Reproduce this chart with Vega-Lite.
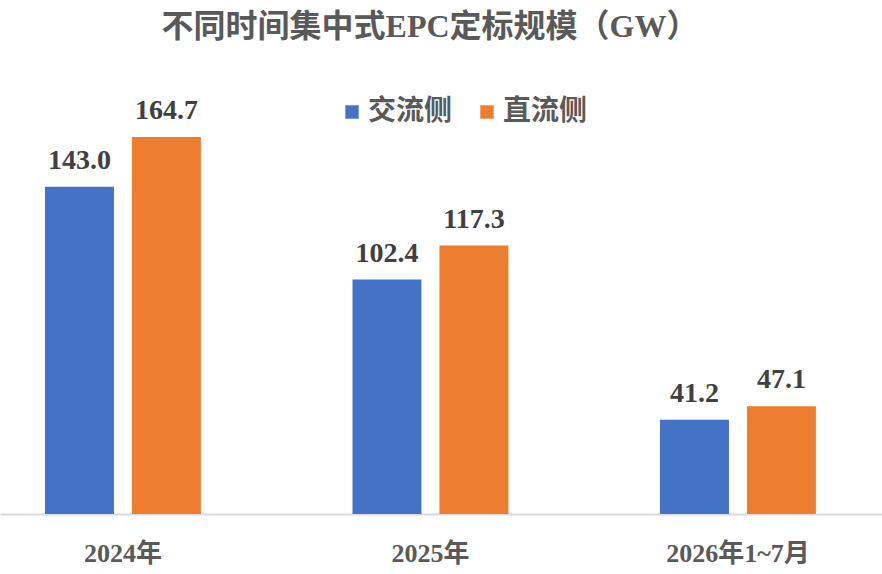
{
  "$schema": "https://vega.github.io/schema/vega-lite/v6.json",
  "autosize": "none",
  "width": 882,
  "height": 412,
  "padding": {"top": 102, "left": 0, "right": 0, "bottom": 60},
  "background": "white",
  "config": {"view": {"stroke": null}},
  "title": {
    "text": "不同时间集中式EPC定标规模（GW）",
    "font": "Liberation Serif, Noto Sans CJK SC",
    "fontSize": 32,
    "fontWeight": "bold",
    "color": "#595959",
    "anchor": "middle",
    "dx": -11,
    "offset": 53
  },
  "data": {
    "values": [
      {"period": "2024年", "side": "交流侧", "value": 143.0},
      {"period": "2024年", "side": "直流侧", "value": 164.7},
      {"period": "2025年", "side": "交流侧", "value": 102.4},
      {"period": "2025年", "side": "直流侧", "value": 117.3},
      {"period": "2026年1~7月", "side": "交流侧", "value": 41.2},
      {"period": "2026年1~7月", "side": "直流侧", "value": 47.1}
    ]
  },
  "encoding": {
    "x": {
      "field": "period", "type": "nominal", "sort": null, "title": null,
      "scale": {"paddingInner": 0.493, "paddingOuter": 0.1806, "align": 0.405},
      "axis": {
        "labelAngle": 0, "ticks": false, "domainColor": "#D9D9D9", "domainWidth": 2,
        "labelFont": "Liberation Serif, Noto Sans CJK SC", "labelFontSize": 26, "labelFontWeight": "bold",
        "labelColor": "#595959", "labelBaseline": "middle", "labelPadding": 39
      }
    },
    "xOffset": {"field": "side", "type": "nominal", "sort": ["交流侧", "直流侧"], "scale": {"paddingInner": 0.207, "paddingOuter": 0}},
    "y": {"field": "value", "type": "quantitative", "scale": {"domain": [0, 180], "nice": false}, "axis": null}
  },
  "layer": [
    {
      "mark": {"type": "bar"},
      "encoding": {
        "color": {
          "field": "side", "type": "nominal",
          "scale": {"domain": ["交流侧", "直流侧"], "range": ["#4472C4", "#ED7D31"]},
          "legend": {
            "title": null, "orient": "none", "direction": "horizontal", "legendX": 338, "legendY": -4,
            "symbolType": "square", "symbolSize": 180, "symbolStrokeWidth": 0,
            "labelFont": "Noto Sans CJK SC", "labelFontSize": 28, "labelFontWeight": "bold", "labelColor": "#595959",
            "columnPadding": 20, "labelOffset": 2
          }
        }
      }
    },
    {
      "mark": {"type": "text", "baseline": "alphabetic", "dy": -18, "font": "Liberation Serif", "fontSize": 28, "fontWeight": "bold", "color": "#404040"},
      "encoding": {"text": {"field": "value", "type": "quantitative", "format": ".1f"}}
    }
  ]
}
